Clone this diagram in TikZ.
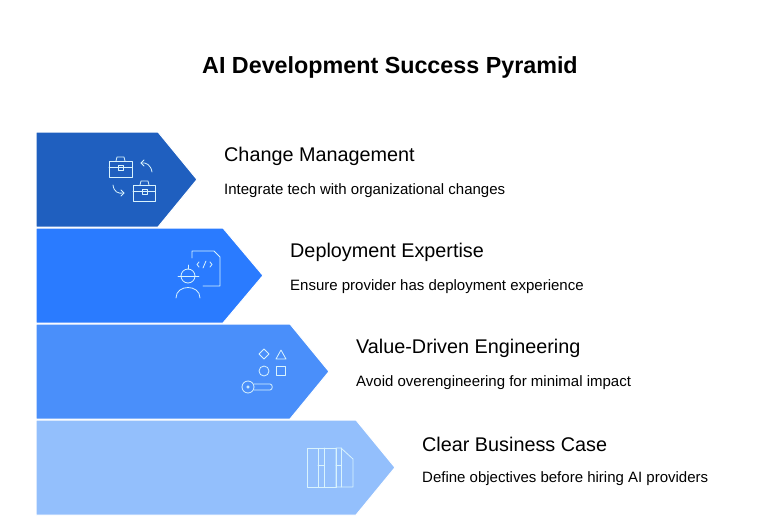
\documentclass[tikz,border=0pt]{standalone}
\usepackage{fontspec}
\setmainfont{Liberation Sans}
\definecolor{cA}{HTML}{1F5FBF}
\definecolor{cB}{HTML}{2A7BFF}
\definecolor{cC}{HTML}{4A8FFA}
\definecolor{cD}{HTML}{93BFFC}
\begin{document}
\begin{tikzpicture}[x=1pt,y=-1pt,
  band/.style={draw=white,line width=1pt},
  ttl/.style={anchor=west,font=\fontsize{19.8}{22}\selectfont,inner sep=0},
  dsc/.style={anchor=west,font=\fontsize{15}{17}\selectfont,inner sep=0},
  ic/.style={draw=white!85!cyan,line width=0.8pt,line join=round,line cap=round}]
\useasboundingbox (0,0) rectangle (780,531);
\node[font=\bfseries\fontsize{23.3}{26}\selectfont] (title) at (390,67) {AI Development Success Pyramid};
\fill[cA,band] (36,132) -- (158,132) -- (197,179.5) -- (158,227) -- (36,227) -- cycle;
\fill[cB,band] (36,228) -- (223,228) -- (263,275.5) -- (223,323) -- (36,323) -- cycle;
\fill[cC,band] (36,324) -- (290,324) -- (329,371.5) -- (290,419) -- (36,419) -- cycle;
\fill[cD,band] (36,420) -- (356,420) -- (395,467.5) -- (356,515) -- (36,515) -- cycle;
\node[ttl] (t1) at (224,156) {Change Management};
\node[dsc] (d1) at (224,191) {Integrate tech with organizational changes};
\node[ttl] (t2) at (290,252) {Deployment Expertise};
\node[dsc] (d2) at (290,287) {Ensure provider has deployment experience};
\node[ttl] (t3) at (356,348) {Value-Driven Engineering};
\node[dsc] (d3) at (356,383) {Avoid overengineering for minimal impact};
\node[ttl] (t4) at (422,444) {Clear Business Case};
\node[dsc] (d4) at (422,479) {Define objectives before hiring AI providers};
% icon 1
\draw[ic] (109,161) rectangle (132,177); \draw[ic] (109,167)--(132,167); \draw[ic] (116,161)--(117,157)--(124,157)--(125,161); \draw[ic] (118,165) rectangle (123,170);
\draw[ic] (133,185) rectangle (155,201); \draw[ic] (133,191)--(155,191); \draw[ic] (140,185)--(141,181)--(148,181)--(149,185); \draw[ic] (142,189) rectangle (147,194);
\draw[ic] (152,172) .. controls (151,165) and (146,162) .. (141,163); \draw[ic] (144,160)--(141,163)--(144,166);
\draw[ic] (113,185) .. controls (114,192) and (118,194) .. (124,193); \draw[ic] (121,190)--(124,193)--(121,196);
% icon 2
\draw[ic] (192,258)--(192,251)--(214,251)--(220,257)--(220,286)--(203,286);
\draw[ic] (181,276) arc (180:0:7); \draw[ic] (178,276)--(199,276); \draw[ic] (181,276) arc (180:360:7); \draw[ic] (188,265)--(188,269);
\draw[ic] (176,298) .. controls (176,284) and (200,284) .. (200,298);
\draw[ic] (199,262)--(197,264.5)--(199,267); \draw[ic] (210,262)--(212,264.5)--(210,267); \draw[ic] (206,261)--(203,268);
% icon 3
\draw[ic] (264,349)--(269,354)--(264,359)--(259,354)--cycle;
\draw[ic] (276,359)--(281,350)--(286,359)--cycle;
\draw[ic] (264,371) circle (5);
\draw[ic] (276,366) rectangle (285,375);
\draw[ic] (248,387) circle (6); \draw[ic] (248,387) circle (1.2);
\draw[ic] (254,384)--(270,384) .. controls (273,384) and (273,390) .. (270,390) -- (254,390);
% icon 4
\draw[ic] (307,448) rectangle (318,487);
\draw[ic] (318,448) rectangle (336,487); \draw[ic] (324,448)--(324,487); \draw[ic] (318,465)--(324,465);
\draw[ic] (336,448)--(341,448)--(353,459)--(353,487)--(336,487)--cycle; \draw[ic] (341,448)--(341,487); \draw[ic] (336,465)--(341,465);
\end{tikzpicture}
\end{document}
